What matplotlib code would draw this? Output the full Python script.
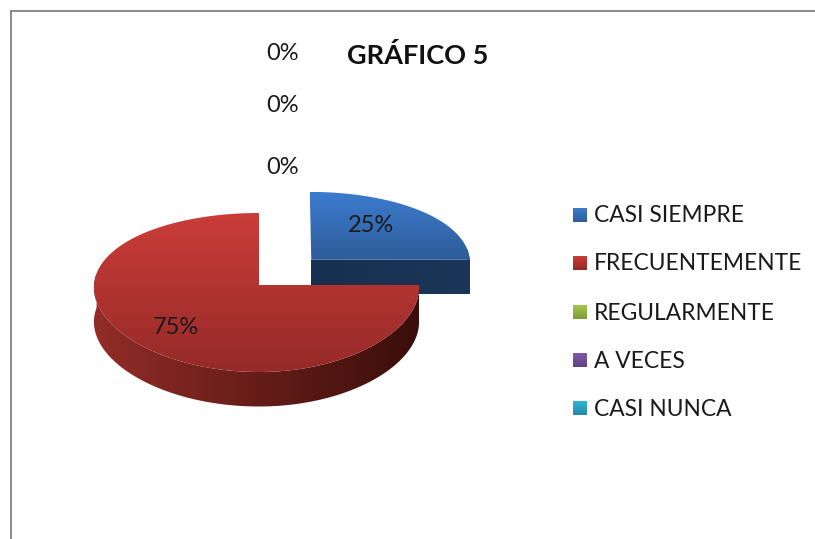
import numpy as np
import matplotlib
matplotlib.use('Agg')
import matplotlib.pyplot as plt
from matplotlib.colors import LinearSegmentedColormap
from matplotlib.patches import Polygon, Rectangle

categories = ['CASI SIEMPRE', 'FRECUENTEMENTE', 'REGULARMENTE', 'A VECES', 'CASI NUNCA']
values = [25, 75, 0, 0, 0]
title = 'GRÁFICO 5'

explode = [0.33, 0, 0, 0, 0]
top_colors = [('#3C7CCE', '#2E5C99'), ('#CB3D39', '#952A28'), ('#A3C84E', '#7E9A3A'),
              ('#7F5AA8', '#5F4380'), ('#30B4D6', '#2389A5')]
side_colors = [('#16304F', '#1B3658'), ('#922C27', '#3A0E0B')]
label_pos = [(371, 226), (176, 328), (283, 168), (283, 105), (283, 54)]

plt.rcParams['font.family'] = ['Lato', 'DejaVu Sans']

fig = plt.figure(figsize=(8.15, 5.39), dpi=100)
ax = fig.add_axes([0, 0, 1, 1])


# перспектива: точка круга (u, v) в пиксели картинки
def project(u, v):
    x = 259 + np.where(u > 0, 160, 165) * u / (1 + 0.03 * v)
    y = 285 - 78.8 * v / (1 + 0.0943 * v)
    return x, y


def gradient_fill(xs, ys, colors, vertical=True, zorder=2):
    cmap = LinearSegmentedColormap.from_list('g', colors)
    grad = np.linspace(0, 1, 128)
    grad = grad[:, None] if vertical else grad[None, :]
    im = ax.imshow(grad, cmap=cmap, aspect='auto', origin='upper', zorder=zorder, interpolation='bilinear',
                   extent=(min(xs), max(xs), max(ys), min(ys)))
    poly = Polygon(np.column_stack([xs, ys]), closed=True, transform=ax.transData, fc='none', ec='none')
    ax.add_patch(poly)
    im.set_clip_path(poly)


total = sum(values)
depth = 34.5
start = 0
z = 2
for val, exp, top, side in zip(values[:2], explode[:2], top_colors[:2], side_colors):
    th = np.radians(np.linspace(start, start + 360 * val / total, 200))
    start += 360 * val / total
    mid = (th[0] + th[-1]) / 2
    eu, ev = exp * np.sqrt(2) * np.sin(mid), exp * np.sqrt(2) * np.cos(mid)
    x, y = project(np.concatenate([[0], np.sin(th)]) + eu, np.concatenate([[0], np.cos(th)]) + ev)

    # боковая стенка только спереди
    front = np.concatenate([[False], np.cos(th) < 0.15])
    ax_x, ax_y = x[front], y[front]
    gradient_fill(np.concatenate([ax_x, ax_x[::-1]]), np.concatenate([ax_y, ax_y[::-1] + depth]), side,
                  vertical=False, zorder=z)
    if val < 50:
        i = np.argmax(x)
        gradient_fill([x[0], x[i], x[i], x[0]], [y[0], y[i], y[i] + depth, y[0] + depth], side,
                      vertical=False, zorder=z)
    gradient_fill(x, y, top, vertical=True, zorder=z + 1)
    z += 2

# подписи долей
for val, (lx, ly) in zip(values, label_pos):
    ax.text(lx, ly, f'{val}%', ha='center', va='center', fontsize=17, color='#1a1a1a', zorder=10)

ax.text(418, 55, title, ha='center', va='center', fontsize=19.5, fontweight='bold', color='#111111', zorder=10)

# легенда
legend_y = [215, 263, 312, 360, 408]
for name, ly, cols in zip(categories, legend_y, top_colors):
    gradient_fill([573, 587, 587, 573], [ly - 7, ly - 7, ly + 7, ly + 7], cols, vertical=True, zorder=5)
    ax.text(594, ly + 1, name, ha='left', va='center', fontsize=16.4, color='#1a1a1a', zorder=10)

# рамка
ax.add_patch(Rectangle((9.5, 10), 806, 2.2, fc='#8c8c8c', ec='none', zorder=6))
ax.add_patch(Rectangle((9.5, 10), 2.2, 530, fc='#8c8c8c', ec='none', zorder=6))

ax.set_xlim(0, 815)
ax.set_ylim(539, 0)
ax.axis('off')

plt.savefig('out.png', dpi=100, facecolor='white')
plt.close()
